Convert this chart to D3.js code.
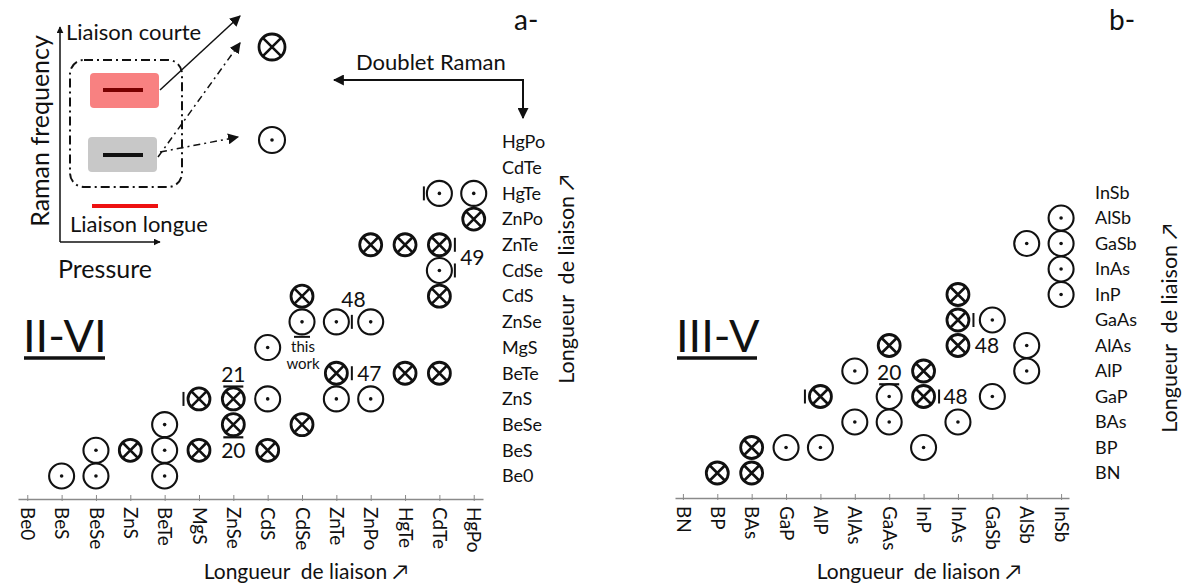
<!DOCTYPE html>
<html><head><meta charset="utf-8">
<script src="https://cdn.jsdelivr.net/npm/d3@7"></script>
<style>
html,body{margin:0;padding:0;background:#fff;}
svg text{font-family:Lato,"DejaVu Sans",sans-serif;fill:#111;}
</style></head>
<body>
<svg id="c" width="1182" height="586"></svg>
<script>
// ---------- DATA ----------
const iiviCategories = ["Be0","BeS","BeSe","ZnS","BeTe","MgS","ZnSe","CdS","CdSe","ZnTe","ZnPo","HgTe","CdTe","HgPo"];
// [compound, level]  ⊙ = dot, ⊗ = cross
const iiviDot = [["BeS",0],["BeSe",0],["BeTe",0],["BeSe",1],["BeTe",1],["BeTe",2],["CdS",3],["ZnTe",3],["ZnPo",3],["CdS",5],["CdSe",6],["ZnTe",6],["ZnPo",6],["CdTe",8],["CdTe",11],["HgPo",11]];
const iiviCross = [["ZnS",1],["MgS",1],["CdS",1],["ZnSe",2],["CdSe",2],["MgS",3],["ZnSe",3],["ZnTe",4],["HgTe",4],["CdTe",4],["CdSe",7],["CdTe",7],["ZnPo",9],["HgTe",9],["CdTe",9],["HgPo",10]];
// [compound, level, side]
const iiviBars = [["MgS",3,-1],["ZnTe",4,1],["ZnTe",6,1],["CdTe",8,1],["CdTe",9,1],["CdTe",11,-1]];
// [text, compound, level, placement]
const iiviRefs = [["21","ZnSe",3.95,"under"],["20","ZnSe",1,"over"],["47","ZnTe",4,"right"],["48","ZnTe",6.85,"mid"],["49","CdTe",8.5,"right"]];

const iiivCategories = ["BN","BP","BAs","GaP","AlP","AlAs","GaAs","InP","InAs","GaSb","AlSb","InSb"];
const iiivDot = [["GaP",1],["AlP",1],["InP",1],["AlAs",2],["GaAs",2],["InAs",2],["GaAs",3],["GaSb",3],["AlAs",4],["AlSb",4],["AlSb",5],["GaSb",6],["InSb",7],["InSb",8],["AlSb",9],["InSb",9],["InSb",10]];
const iiivCross = [["BP",0],["BAs",0],["BAs",1],["AlP",3],["InP",3],["InP",4],["GaAs",5],["InAs",5],["InAs",6],["InAs",7]];
const iiivBars = [["AlP",3,-1],["InP",3,1],["InAs",6,1]];
const iiivRefs = [["20","GaAs",3.95,"under"],["48","InP",3,"right2"],["48","InAs",5,"right3"]];

const axisTitle = "Longueur\u00a0\u00a0de liaison \u2197";

// ---------- DRAW ----------
const svg = d3.select("#c");
const defs = svg.append("defs");
defs.append("marker").attr("id","ah").attr("viewBox","0 0 10 10").attr("refX",9).attr("refY",5)
  .attr("markerWidth",7).attr("markerHeight",7).attr("orient","auto-start-reverse").attr("markerUnits","userSpaceOnUse")
  .append("path").attr("d","M0,0 L10,5 L0,10 z").attr("fill","#111");
defs.append("marker").attr("id","ah2").attr("viewBox","0 0 10 10").attr("refX",9).attr("refY",5)
  .attr("markerWidth",11).attr("markerHeight",11).attr("orient","auto-start-reverse").attr("markerUnits","userSpaceOnUse")
  .append("path").attr("d","M0,0 L10,5 L0,10 z").attr("fill","#111");

function dotMark(g, cx, cy, r){
  g.append("circle").attr("cx",cx).attr("cy",cy).attr("r",r).attr("fill","none").attr("stroke","#111").attr("stroke-width",2.1);
  g.append("circle").attr("cx",cx).attr("cy",cy).attr("r",1.8).attr("fill","#111");
}
function crossMark(g, cx, cy, r){
  g.append("circle").attr("cx",cx).attr("cy",cy).attr("r",r).attr("fill","none").attr("stroke","#111").attr("stroke-width",2.8);
  const d = r*Math.SQRT1_2;
  g.append("path").attr("d",`M${cx-d},${cy-d}L${cx+d},${cy+d}M${cx-d},${cy+d}L${cx+d},${cy-d}`)
    .attr("stroke","#111").attr("stroke-width",2.6).attr("fill","none");
}

function panel(opt){
  const g = svg.append("g");
  const x = d3.scalePoint().domain(opt.cats).range(opt.xr).padding(opt.pad);
  const y = d3.scaleLinear().domain([0, opt.cats.length-1]).range(opt.yr);
  // axis
  const ax = g.append("g").attr("transform",`translate(0,${opt.axisY})`)
    .call(d3.axisBottom(x).tickSizeInner(4).tickSizeOuter(0).tickPadding(8));
  ax.select(".domain").attr("stroke","#8a8a8a").attr("stroke-width",1.3);
  ax.selectAll(".tick line").attr("stroke","#8a8a8a").attr("y1",-4).attr("y2",2);
  ax.selectAll(".tick text").attr("transform","rotate(90)").attr("x",8).attr("y",0)
    .attr("dy","0.36em").attr("text-anchor","start").style("font-size","19px")
    .style("font-family","Lato,'DejaVu Sans',sans-serif").attr("fill","#1a1a1a");
  // row labels
  g.selectAll("text.rl").data(opt.cats).join("text").attr("class","rl")
    .attr("x",opt.labelX).attr("y",(d,i)=>y(i)).attr("dy","0.35em")
    .style("font-size","18px").text(d=>d);
  // marks
  const mk = g.append("g");
  opt.dots.forEach(d=>dotMark(mk, x(d[0]), y(d[1]), 12.5));
  opt.cross.forEach(d=>crossMark(mk, x(d[0]), y(d[1]), 11));
  opt.bars.forEach(d=>{
    const cx = x(d[0]) + d[2]*15.5, cy = y(d[1]);
    mk.append("line").attr("x1",cx).attr("x2",cx).attr("y1",cy-7).attr("y2",cy+7).attr("stroke","#111").attr("stroke-width",2);
  });
  opt.refs.forEach(d=>{
    let cx = x(d[1]), cy = y(d[2]);
    if(d[3]==="right") cx += 33;
    if(d[3]==="right2") cx += 32;
    if(d[3]==="right3") cx += 29;
    if(d[3]==="mid") cx += x.step()/2;
    g.append("text").attr("x",cx).attr("y",cy).attr("dy","0.35em").attr("text-anchor","middle")
      .style("font-size","21px").text(d[0]);
    if(d[3]==="under") g.append("line").attr("x1",cx-10).attr("x2",cx+10).attr("y1",cy+12).attr("y2",cy+12).attr("stroke","#111").attr("stroke-width",2.2);
    if(d[3]==="over") g.append("line").attr("x1",cx-10).attr("x2",cx+10).attr("y1",cy-13).attr("y2",cy-13).attr("stroke","#111").attr("stroke-width",2.2);
  });
  // titles
  g.append("text").attr("x",opt.titleX).attr("y",579).attr("text-anchor","middle").style("font-size","21px").text(axisTitle);
  g.append("text").attr("transform",`translate(${opt.vX},${opt.vY}) rotate(-90)`).attr("text-anchor","middle")
    .attr("dy","0.35em").style("font-size","21.5px").text(axisTitle);
  g.append("text").attr("x",opt.bigX).attr("y",352).style("font-size","45px").text(opt.big);
  g.append("line").attr("x1",opt.bigX+1).attr("x2",opt.bigX+opt.bigW).attr("y1",358).attr("y2",358).attr("stroke","#111").attr("stroke-width",3.5);
  g.append("text").attr("x",opt.tagX).attr("y",30).style("font-size","28px").text(opt.tag);
  return {g,x,y};
}

const L = panel({cats:iiviCategories, xr:[18,483], pad:0.27, yr:[476,142], axisY:499, labelX:502,
  dots:iiviDot, cross:iiviCross, bars:iiviBars, refs:iiviRefs, titleX:306, vX:566, vY:279,
  big:"II-VI", bigX:23, bigW:82, tag:"a-", tagX:514});
// "this work" note
L.g.append("line").attr("x1",L.x("CdSe")-8).attr("x2",L.x("CdSe")+8).attr("y1",L.y(6)+15).attr("y2",L.y(6)+15).attr("stroke","#111").attr("stroke-width",2);
L.g.append("text").attr("x",L.x("CdSe")+1).attr("y",L.y(5.05)).attr("dy","0.35em").attr("text-anchor","middle").style("font-size","15px").attr("fill","#333").text("this");
L.g.append("text").attr("x",L.x("CdSe")+1).attr("y",L.y(4.38)).attr("dy","0.35em").attr("text-anchor","middle").style("font-size","15px").attr("fill","#333").text("work");

panel({cats:iiivCategories, xr:[675,1069], pad:0.23, yr:[473,192.5], axisY:498, labelX:1095,
  dots:iiivDot, cross:iiivCross, bars:iiivBars, refs:iiivRefs, titleX:919, vX:1169, vY:328,
  big:"III-V", bigX:676, bigW:81, tag:"b-", tagX:1109});

// ---------- INSET ----------
const ins = svg.append("g");
ins.append("line").attr("x1",60).attr("y1",242).attr("x2",60).attr("y2",27).attr("stroke","#111").attr("stroke-width",1.5).attr("marker-end","url(#ah)");
ins.append("line").attr("x1",60).attr("y1",242).attr("x2",160).attr("y2",242).attr("stroke","#111").attr("stroke-width",1.5).attr("marker-end","url(#ah)");
ins.append("text").attr("x",66).attr("y",40).style("font-size","22px").text("Liaison courte");
ins.append("text").attr("transform","translate(40,131) rotate(-90)").attr("text-anchor","middle").attr("dy","0.35em").style("font-size","25px").text("Raman frequency");
ins.append("text").attr("x",70).attr("y",232).style("font-size","22px").text("Liaison longue");
ins.append("text").attr("x",58).attr("y",278).style("font-size","25px").text("Pressure");
ins.append("rect").attr("x",70).attr("y",60).attr("width",112).attr("height",127).attr("rx",14)
  .attr("fill","none").attr("stroke","#111").attr("stroke-width",2).attr("stroke-dasharray","9,4,2,4");
ins.append("rect").attr("x",90).attr("y",73).attr("width",69).attr("height",35).attr("rx",4).attr("fill","#f88181");
ins.append("line").attr("x1",103).attr("x2",143).attr("y1",90).attr("y2",90).attr("stroke","#780000").attr("stroke-width",4);
ins.append("rect").attr("x",88).attr("y",137).attr("width",69).attr("height",35).attr("rx",4).attr("fill","#c8c8c8");
ins.append("line").attr("x1",103).attr("x2",143).attr("y1",155).attr("y2",155).attr("stroke","#111").attr("stroke-width",4);
ins.append("line").attr("x1",92).attr("x2",158).attr("y1",206).attr("y2",206).attr("stroke","#ee1111").attr("stroke-width",4);
ins.append("line").attr("x1",160).attr("y1",90).attr("x2",240).attr("y2",16).attr("stroke","#111").attr("stroke-width",1.5).attr("marker-end","url(#ah2)");
ins.append("line").attr("x1",158).attr("y1",157).attr("x2",240).attr("y2",43).attr("stroke","#111").attr("stroke-width",1.5).attr("stroke-dasharray","7,4,2,4").attr("marker-end","url(#ah2)");
ins.append("line").attr("x1",160).attr("y1",152).attr("x2",238).attr("y2",137).attr("stroke","#111").attr("stroke-width",1.5).attr("stroke-dasharray","7,4,2,4").attr("marker-end","url(#ah2)");
crossMark(ins, 272, 47, 13);
dotMark(ins, 272, 140, 13);

// Doublet Raman
svg.append("text").attr("x",356).attr("y",70).style("font-size","22px").text("Doublet Raman");
svg.append("path").attr("d","M523,80 H334").attr("stroke","#111").attr("stroke-width",2).attr("fill","none").attr("marker-end","url(#ah2)");
svg.append("path").attr("d","M523,79 V118").attr("stroke","#111").attr("stroke-width",2).attr("fill","none").attr("marker-end","url(#ah2)");
</script>
</body></html>
